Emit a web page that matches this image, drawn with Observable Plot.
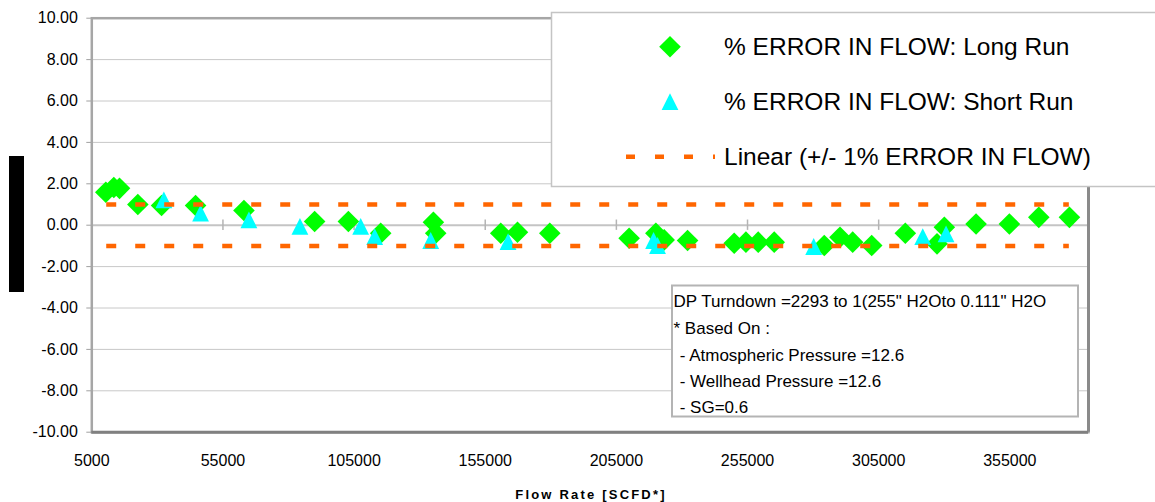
<!DOCTYPE html>
<html>
<head>
<meta charset="utf-8">
<script src="https://cdn.jsdelivr.net/npm/d3@7"></script>
<script src="https://cdn.jsdelivr.net/npm/@observablehq/plot@0.6"></script>
<style>
  body { margin: 0; background: #fff; font-family: "Liberation Sans", Arial, sans-serif; }
  #wrap { position: relative; width: 1155px; height: 502px; overflow: hidden; background: #fff; }
  #wrap svg { position: absolute; left: 0; top: 0; }
  .pre { white-space: pre; }
</style>
</head>
<body>
<div id="wrap"></div>
<script>
// ---- data ----
const longRunFlow = [10340, 13390, 15570, 22550, 31590, 44560, 63010, 89960, 102820, 115140,
  135240, 136120, 160920, 167290, 179610, 209860, 220050, 223220, 232140, 249920,
  254390, 259080, 265180, 284260, 290250, 295090, 302340, 315160, 327250, 330040,
  342130, 354840, 366050, 377730];
const longRunError = [1.59, 1.82, 1.78, 1.00, 0.95, 0.95, 0.71, 0.18, 0.18, -0.39,
  0.14, -0.39, -0.39, -0.34, -0.39, -0.63, -0.39, -0.71, -0.74, -0.87,
  -0.82, -0.82, -0.82, -0.98, -0.58, -0.82, -0.98, -0.39, -0.90, -0.10,
  0.06, 0.06, 0.38, 0.38];
const shortRunFlow = [32470, 46470, 64900, 84350, 107510, 112850, 134210, 163700,
  219180, 220700, 280220, 321800, 330690];
const shortRunError = [1.22, 0.58, 0.26, -0.06, -0.06, -0.55, -0.74, -0.79,
  -0.74, -0.98, -1.03, -0.55, -0.42];
const bandFlow = [10500, 377500];
const bandUpper = [1, 1];
const bandLower = [-1, -1];
const xTicks = [5000, 55000, 105000, 155000, 205000, 255000, 305000, 355000];
const yTicks = [-10, -8, -6, -4, -2, 0, 2, 4, 6, 8, 10];
const xDomain = [5000, 385000];
const yDomain = [-10, 10];
const legendLabels = ["% ERROR IN FLOW: Long Run", "% ERROR IN FLOW: Short Run", "Linear (+/- 1% ERROR IN FLOW)"];
const noteLines = ["DP Turndown =2293 to 1(255\" H2Oto 0.111\" H2O", "* Based On :", " - Atmospheric Pressure =12.6", " - Wellhead Pressure =12.6", " - SG=0.6"];
const xTitle = "Flow Rate [SCFD*]";

// ---- tables ----
const longRun = longRunFlow.map((f, i) => ({flow: f, err: longRunError[i]}));
const shortRun = shortRunFlow.map((f, i) => ({flow: f, err: shortRunError[i]}));
const upper = bandFlow.map((f, i) => ({flow: f, err: bandUpper[i]}));
const lower = bandFlow.map((f, i) => ({flow: f, err: bandLower[i]}));

// custom symbols (centered on bounding box)
const diamondSym = {draw(ctx, size) { const r = Math.sqrt(size / Math.PI);
  ctx.moveTo(0, -r); ctx.lineTo(r, 0); ctx.lineTo(0, r); ctx.lineTo(-r, 0); ctx.closePath(); }};
const triangleSym = {draw(ctx, size) { const r = Math.sqrt(size / Math.PI);
  ctx.moveTo(0, -r); ctx.lineTo(r, r); ctx.lineTo(-r, r); ctx.closePath(); }};

const GREEN = "#00ff00", CYAN = "#00ffff", ORANGE = "#ff6600";
const DR = 10.8, TR = 8.4;

const chart = Plot.plot({
  width: 1155, height: 502,
  marginLeft: 91.3, marginRight: 67, marginTop: 17.7, marginBottom: 70.3,
  x: {domain: xDomain},
  y: {domain: yDomain},
  style: {fontFamily: "'Liberation Sans', Arial, sans-serif", fontSize: "16px", color: "#000", background: "transparent"},
  marks: [
    Plot.ruleY(yTicks.filter(d => d !== 0 && Math.abs(d) < 10), {stroke: "#c8c8c8", strokeWidth: 1}),
    Plot.ruleY([0], {stroke: "#c4c4c4", strokeWidth: 2}),
    Plot.ruleX(xTicks.slice(1), {y1: -0.25, y2: 0.25, stroke: "#b4b4b4", strokeWidth: 1.5}),
    Plot.axisY(yTicks, {tickFormat: d => d.toFixed(2), tickSize: 5, tickPadding: 9, stroke: "#a0a0a0", fill: "#000", fontSize: 16, label: null}),
    Plot.axisX(xTicks, {tickFormat: d => String(d), tickSize: 0, tickPadding: 22, fill: "#000", fontSize: 16, label: null}),
    Plot.frame({stroke: "#a6a6a6", strokeWidth: 2.5}),
    Plot.ruleX([xDomain[1]], {stroke: "#8a8a8a", strokeWidth: 3}),
    Plot.ruleY([yDomain[0]], {stroke: "#808080", strokeWidth: 3}),
    Plot.dot(longRun, {x: "flow", y: "err", symbol: diamondSym, r: DR, fill: GREEN, stroke: "none"}),
    Plot.dot(shortRun, {x: "flow", y: "err", symbol: triangleSym, r: TR, fill: CYAN, stroke: "none"}),
    Plot.line(upper, {x: "flow", y: "err", stroke: ORANGE, strokeWidth: 4.5, strokeDasharray: "10,19", strokeLinecap: "butt"}),
    Plot.line(lower, {x: "flow", y: "err", stroke: ORANGE, strokeWidth: 4.5, strokeDasharray: "10,19", strokeLinecap: "butt"})
  ]
});
document.getElementById("wrap").appendChild(chart);

// ---- overlay: legend, note box, axis title, redaction bar ----
const ov = d3.select("#wrap").append("svg").attr("width", 1155).attr("height", 502)
  .style("font-family", "'Liberation Sans', Arial, sans-serif");

ov.append("rect").attr("x", 9).attr("y", 156).attr("width", 15).attr("height", 136).attr("fill", "#000");

// legend
ov.append("rect").attr("x", 551.5).attr("y", 12.5).attr("width", 650).attr("height", 174)
  .attr("fill", "#fff").attr("stroke", "#c4c4c4").attr("stroke-width", 1.5);
const rowY = [46.7, 101.7, 156.7];
ov.append("path").attr("d", d3.symbol(diamondSym, Math.PI * DR * DR)()).attr("fill", GREEN)
  .attr("transform", `translate(670,${rowY[0]})`);
ov.append("path").attr("d", d3.symbol(triangleSym, Math.PI * TR * TR)()).attr("fill", CYAN)
  .attr("transform", `translate(670,${rowY[1]})`);
ov.append("line").attr("x1", 626).attr("x2", 715).attr("y1", rowY[2]).attr("y2", rowY[2])
  .attr("stroke", ORANGE).attr("stroke-width", 4.5).attr("stroke-dasharray", "9,20");
legendLabels.forEach((t, i) => {
  ov.append("text").attr("x", 724).attr("y", rowY[i] + 8.5).attr("font-size", 24.5)
    .attr("fill", "#000").text(t);
});

// note box
ov.append("rect").attr("x", 672).attr("y", 285.5).attr("width", 406).attr("height", 131)
  .attr("fill", "#fff").attr("stroke", "#b4b4b4").attr("stroke-width", 2);
const noteY = [306.7, 334.3, 361, 386.7, 412.7];
noteLines.forEach((t, i) => {
  ov.append("text").attr("class", "pre").attr("x", i < 2 ? 673.5 : 675).attr("y", noteY[i])
    .attr("font-size", 17).attr("fill", "#000").text(t);
});

// x-axis title
ov.append("text").attr("x", 591).attr("y", 499).attr("text-anchor", "middle")
  .attr("font-size", 13).attr("font-weight", "bold").attr("letter-spacing", 2.2)
  .attr("fill", "#000").text(xTitle);
</script>
</body>
</html>
